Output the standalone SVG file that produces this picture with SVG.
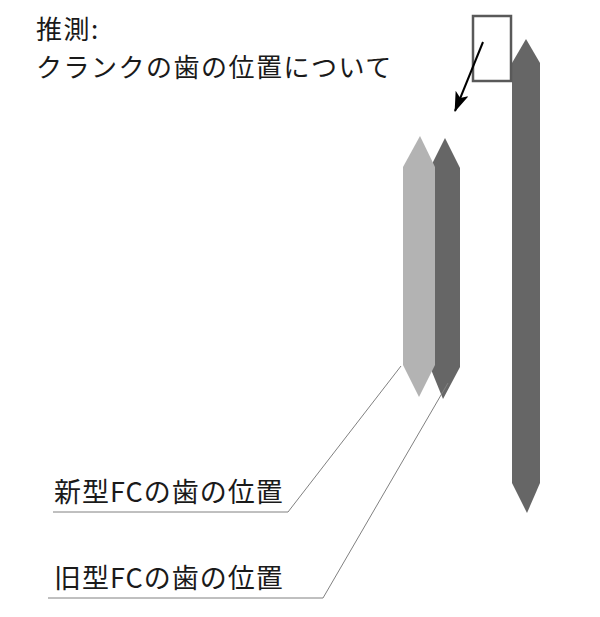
<svg xmlns="http://www.w3.org/2000/svg" width="600" height="617" viewBox="0 0 600 617">
<style>
text{font-family:"Noto Sans CJK JP","Noto Sans",sans-serif;fill:#1a1a1a}
.t1{font-size:26px;letter-spacing:1.5px}
.lbl{font-size:27px;letter-spacing:1px}
.lead{fill:none;stroke:#808080;stroke-width:1}
</style>
<defs>
<marker id="ah" viewBox="0 0 20 14" refX="19" refY="7" markerWidth="20" markerHeight="14" markerUnits="userSpaceOnUse" orient="auto"><path d="M0,0 L20,7 L0,14 L5,7 z" fill="#000"/></marker>
</defs>
<rect width="600" height="617" fill="#fff"/>
<g id="title">
<text class="t1" x="36" y="39">推測:</text>
<text class="t1" x="36" y="77">クランクの歯の位置について</text>
</g>
<g id="big-tooth"><polygon points="526,39 540,63 540,483 527,513 512,483 512,63" fill="#666"/></g>
<g id="old-tooth"><polygon points="445,138 460,168 460,367 443,399 430,367 430,168" fill="#666"/></g>
<g id="new-tooth"><polygon points="420,136 435,167 435,365 419,397 403,365 403,167" fill="#b3b3b3"/></g>
<g id="box"><rect x="473" y="16" width="38" height="65" fill="none" stroke="#595959" stroke-width="2.5"/></g>
<g id="label-new"><text class="lbl" x="54" y="502">新型FCの歯の位置</text></g>
<g id="label-old"><text class="lbl" x="54" y="588">旧型FCの歯の位置</text></g>
<g id="connectors">
<line x1="483" y1="42" x2="455" y2="111" stroke="#000" stroke-width="2" marker-end="url(#ah)"/>
<polyline class="lead" points="53,512 288,512 401,366"/>
<polyline class="lead" points="48,598 323,598 448,383"/>
</g>
</svg>
